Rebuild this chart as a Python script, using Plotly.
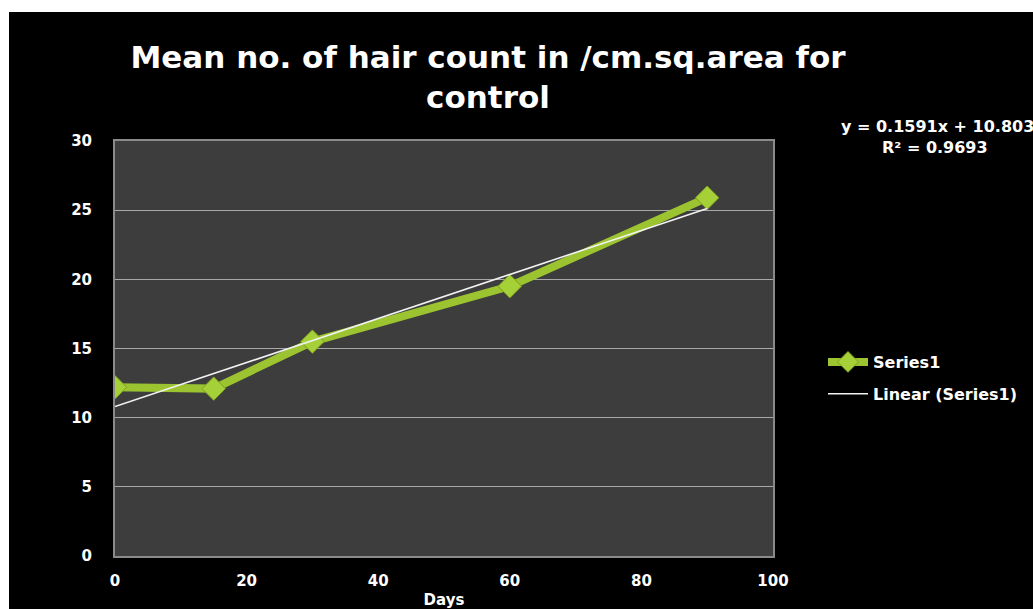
import plotly.graph_objects as go

# Observation days and mean hair count per cm² (control group)
days = [0, 15, 30, 60, 90]
hair_count = [12.2, 12.1, 15.5, 19.5, 25.9]

# Linear trendline coefficients as reported
slope = 0.1591
intercept = 10.803
r_squared = 0.9693
trend_x = [0, 90]
trend_y = [intercept + slope * x for x in trend_x]

x_ticks = [0, 20, 40, 60, 80, 100]
y_ticks = [0, 5, 10, 15, 20, 25, 30]

W, H = 1033, 609
L, R, T, B = 115, 260, 141, 53
pw, ph = W - L - R, H - T - B


def px(x):
    return (x - L) / pw


def py(y):
    return (H - B - y) / ph


title_font = "DejaVu Sans"
body_font = "DejaVu Sans"
fig = go.Figure()

fig.add_trace(go.Scatter(
    x=days, y=hair_count, name="Series1", mode="lines+markers",
    legendgroup="a",
    line=dict(color="#9cc430", width=8),
    marker=dict(symbol="diamond", size=18, color="#a6d038",
                line=dict(color="#7fa020", width=1)),
))
fig.add_trace(go.Scatter(
    x=trend_x, y=trend_y, name="Linear (Series1)", mode="lines",
    legendgroup="b",
    line=dict(color="#f2f2f2", width=1.6),
))

fig.update_layout(
    width=W, height=H,
    margin=dict(l=L, r=R, t=T, b=B, autoexpand=False),
    paper_bgcolor="black",
    plot_bgcolor="#3d3d3d",
    font=dict(family=body_font, color="white", size=15, weight="bold"),
    title=dict(
        text="Mean no. of hair count in /cm.sq.area for<br>control",
        xref="container", x=488 / W, xanchor="center",
        yref="container", y=1 - 68 / H, yanchor="middle",
        font=dict(family=title_font, size=31, color="white", weight="bold"),
    ),
    xaxis=dict(
        range=[0, 100], tickvals=x_ticks, showgrid=False, zeroline=False,
        showline=True, linecolor="#8a8a8a", linewidth=2, mirror=True,
        ticks="", ticklabelstandoff=10,
        title=dict(text="Days", font=dict(size=15, weight="bold"), standoff=17),
    ),
    yaxis=dict(
        range=[0, 30], tickvals=y_ticks, showgrid=True, gridcolor="#a8a8a8",
        gridwidth=1.2, zeroline=False,
        showline=True, linecolor="#8a8a8a", linewidth=2, mirror=True,
        ticks="", ticklabelstandoff=18,
    ),
    legend=dict(
        x=px(823), y=py(378), xanchor="left", yanchor="middle",
        bgcolor="rgba(0,0,0,0)", font=dict(size=16, weight="bold"),
        tracegroupgap=8, itemwidth=40,
    ),
    showlegend=True,
)

# Trendline equation label
fig.add_annotation(
    xref="paper", yref="paper", x=px(1036), y=py(126),
    xanchor="right", yanchor="middle", showarrow=False,
    text=f"y = {slope}x + {intercept}",
    font=dict(size=16, weight="bold", color="white"),
)
fig.add_annotation(
    xref="paper", yref="paper", x=px(935), y=py(147),
    xanchor="center", yanchor="middle", showarrow=False,
    text=f"R² = {r_squared}",
    font=dict(size=16, weight="bold", color="white"),
)

# White page edge around the black chart frame
fig.add_shape(type="rect", xref="paper", yref="paper",
              x0=px(0), x1=px(W), y0=py(0), y1=py(12),
              fillcolor="white", line=dict(width=0), layer="below")
fig.add_shape(type="rect", xref="paper", yref="paper",
              x0=px(0), x1=px(9), y0=py(0), y1=py(H),
              fillcolor="white", line=dict(width=0), layer="below")

fig.write_html("out.html")
